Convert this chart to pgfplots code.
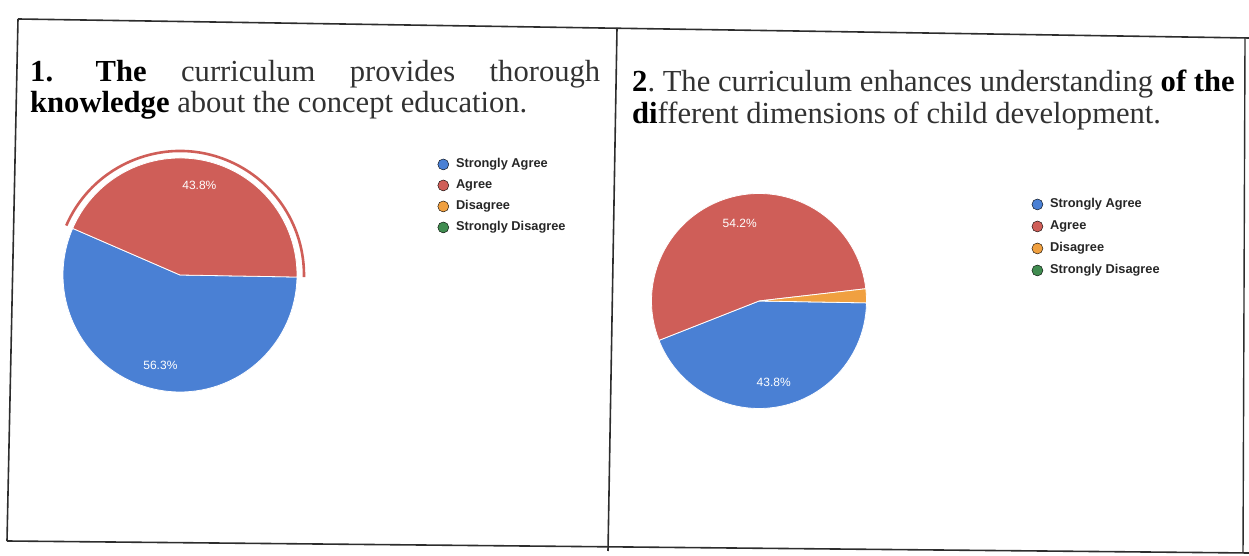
\documentclass[border=0pt]{standalone}
\usepackage{fontspec}
\setmainfont{Liberation Serif}
\newfontfamily\arial{Liberation Sans}
\usepackage{pgfplots}
\usepackage{pgfplotstable}
\pgfplotsset{compat=1.18}

\definecolor{sa}{RGB}{74,128,212}
\definecolor{ag}{RGB}{207,94,88}
\definecolor{di}{RGB}{240,160,64}
\definecolor{sd}{RGB}{64,140,80}
\definecolor{txt}{RGB}{50,50,50}
\definecolor{frame}{RGB}{45,45,45}

\pgfplotstableread{
cat value
SA 56.3
AG 43.8
DI 0
SD 0
}\pieone
\pgfplotstableread{
cat value
SA 43.8
AG 54.2
DI 2.1
SD 0
}\pietwo

\newcommand\pa[2]{\csname pieA#1#2\endcsname}
\newcommand\pv[2]{\csname pieV#1#2\endcsname}
\newcommand\getpie[3]{%
  \xdef\ptot{0}%
  \foreach \i in {0,...,3}{%
    \pgfplotstablegetelem{\i}{value}\of#1%
    \expandafter\xdef\csname pieV#2\i\endcsname{\pgfplotsretval}%
    \pgfmathparse{\ptot+\pgfplotsretval}\xdef\ptot{\pgfmathresult}}%
  \xdef\pcum{#3}%
  \expandafter\xdef\csname pieA#20\endcsname{#3}%
  \foreach \i in {0,...,3}{%
    \pgfmathparse{\pcum-\pv{#2}{\i}/\ptot*360}\xdef\pcum{\pgfmathresult}%
    \pgfmathtruncatemacro\j{\i+1}%
    \expandafter\xdef\csname pieA#2\j\endcsname{\pcum}}%
}
\newcommand\slice[4]{%
  \fill[#1, draw=white, line width=0.8pt] (axis cs:0,0) --
    (axis cs:{cos(\pa{#2}{#3})},{sin(\pa{#2}{#3})})
    arc[start angle=\pa{#2}{#3}, end angle=\pa{#2}{\the\numexpr#3+1\relax}, radius=#4] -- cycle;}
\newcommand\pielabel[3]{%
  \node[text=white, inner sep=0pt, font=\arial\fontsize{12}{12}\selectfont]
    at (axis cs:{#3*cos((\pa{#1}{#2}+\pa{#1}{\the\numexpr#2+1\relax})/2)},{#3*sin((\pa{#1}{#2}+\pa{#1}{\the\numexpr#2+1\relax})/2)})
    {\pgfmathprintnumber[fixed,precision=1,fixed zerofill,assume math mode=true]{\pv{#1}{#2}}\%};}

\pgfplotsset{
  pielegend/.style={
    legend image code/.code={\fill[##1] (0pt,0pt) circle (5.5pt);},
    legend cell align=left,
    legend style={draw=none, fill=none, inner sep=0pt, column sep=7pt, row sep=8.5pt,
      font=\arial\bfseries\fontsize{12.8}{14}\selectfont, text=black!85,
      nodes={inner sep=0pt, text height=9.5pt, text depth=3pt}},
  },
}

\begin{document}
\frenchspacing
\begin{tikzpicture}
\path[use as bounding box] (0,0) rectangle (1249pt,556pt);
\getpie{\pieone}{a}{-1}
\getpie{\pietwo}{b}{-1}

% frame of the scanned table
\draw[frame, line width=1.6pt] (18pt,537pt) -- (1249pt,518pt);
\draw[frame, line width=1.6pt] (18pt,537pt) -- (7pt,15pt);
\draw[frame, line width=1.6pt] (7pt,15pt) -- (1249pt,3pt);
\draw[frame, line width=1.6pt] (617pt,528pt) -- (608pt,5pt);
\draw[frame, line width=1.4pt] (1245pt,518pt) -- (1243pt,3pt);

% titles
\node[anchor=base west, inner sep=0pt, text=txt, font=\fontsize{30.6}{32}\selectfont] at (30pt,474pt)
  {\makebox[570pt][s]{\textcolor{black}{\textbf{1.}}\hspace{8pt} \textcolor{black}{\textbf{The}} curriculum provides thorough}};
\node[anchor=base west, inner sep=0pt, text=txt, font=\fontsize{30.6}{32}\selectfont] at (30pt,443pt)
  {\textcolor{black}{\textbf{knowledge}} about the concept education.};
\node[anchor=base west, inner sep=0pt, text=txt, font=\fontsize{30.6}{32}\selectfont] at (632pt,464pt)
  {\textcolor{black}{\textbf{2}}. The curriculum enhances understanding \textcolor{black}{\textbf{of the}}};
\node[anchor=base west, inner sep=0pt, text=txt, font=\fontsize{30.6}{32}\selectfont] at (632pt,432pt)
  {\textcolor{black}{\textbf{di}}fferent dimensions of child development.};

% pie 1
\begin{axis}[at={(180pt,281pt)}, anchor=center, x=117pt, y=117pt,
  xmin=-1, xmax=1, ymin=-1, ymax=1, hide axis, clip=false, pielegend,
  legend style={at={(axis cs:2.2,1.0)}, anchor=north west}]
  \addlegendimage{fill=sa}\addlegendentry{Strongly Agree}
  \addlegendimage{fill=ag}\addlegendentry{Agree}
  \addlegendimage{fill=di}\addlegendentry{Disagree}
  \addlegendimage{fill=sd}\addlegendentry{Strongly Disagree}
  \slice{sa}{a}{0}{117pt}
  \slice{ag}{a}{1}{117pt}
  \draw[ag, line width=2.6pt] (axis cs:{1.06*cos(\pa{a}{1})},{1.06*sin(\pa{a}{1})})
    arc[start angle=\pa{a}{1}, end angle=\pa{a}{2}, radius=124pt];
  \pielabel{a}{0}{0.79}
  \pielabel{a}{1}{0.78}
\end{axis}

% pie 2
\begin{axis}[at={(759pt,255pt)}, anchor=center, x=107.5pt, y=107.5pt,
  xmin=-1, xmax=1, ymin=-1, ymax=1, hide axis, clip=false, pielegend,
  legend style={at={(axis cs:2.535,0.958)}, anchor=north west, row sep=9.5pt}]
  \addlegendimage{fill=sa}\addlegendentry{Strongly Agree}
  \addlegendimage{fill=ag}\addlegendentry{Agree}
  \addlegendimage{fill=di}\addlegendentry{Disagree}
  \addlegendimage{fill=sd}\addlegendentry{Strongly Disagree}
  \slice{sa}{b}{0}{107.5pt}
  \slice{ag}{b}{1}{107.5pt}
  \slice{di}{b}{2}{107.5pt}
  \pielabel{b}{0}{0.77}
  \pielabel{b}{1}{0.74}
\end{axis}
\end{tikzpicture}
\end{document}
